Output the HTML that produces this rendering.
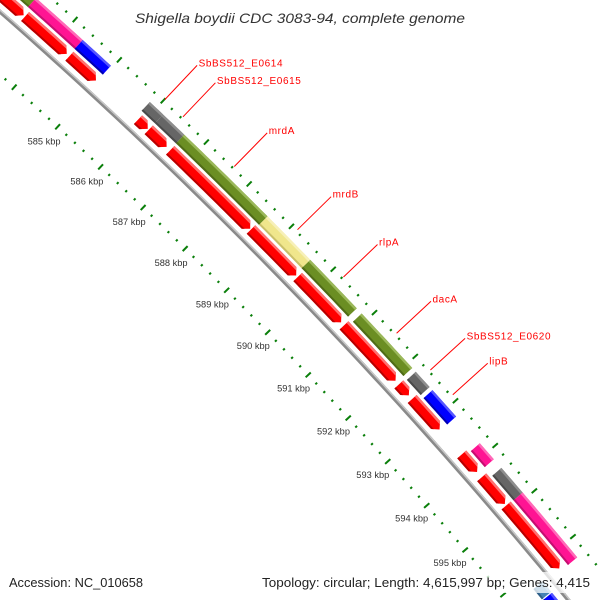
<!DOCTYPE html>
<html><head><meta charset="utf-8"><title>Shigella boydii genome map</title>
<style>
html,body{margin:0;padding:0;background:#fff;overflow:hidden;}
svg{display:block;}
text{font-family:"Liberation Sans","DejaVu Sans",sans-serif;}
</style></head>
<body>
<svg id="map" width="600" height="600" viewBox="0 0 600 600" xmlns="http://www.w3.org/2000/svg">
<rect x="0" y="0" width="600" height="600" fill="#fff"/>
<g id="ticks"></g>
<g id="backbone"></g>
<g id="features"></g>
<g id="labels"></g>
<rect x="130" y="4" width="340" height="20" fill="#fff" opacity="0.75"/>
<text x="300" y="23" text-anchor="middle" font-size="14" font-style="italic" fill="#333" textLength="330" lengthAdjust="spacingAndGlyphs">Shigella boydii CDC 3083-94, complete genome</text>
<rect x="4" y="572" width="144" height="21" fill="#fff" opacity="0.75"/>
<text x="9" y="587" font-size="13" fill="#222" textLength="134" lengthAdjust="spacingAndGlyphs">Accession: NC_010658</text>
<rect x="257" y="572" width="340" height="21" fill="#fff" opacity="0.75"/>
<text x="262" y="587" font-size="13" fill="#222" textLength="328" lengthAdjust="spacingAndGlyphs">Topology: circular; Length: 4,615,997 bp; Genes: 4,415</text>
</svg>
<script>
// ---- data (bp positions) ----
const outerStarts = [582000, 583272, 584323, 585853, 586160, 586648, 588601, 589620, 590864, 592195, 592610, 593801, 594349, 594894];
const outerEnds   = [583272, 584323, 584963, 586160, 586648, 588601, 589620, 590745, 592108, 592539, 593203, 594157, 594894, 596312];
const outerCats   = ['olive','pink','blue','gray','gray','olive','khaki','olive','olive','gray','blue','pink','gray','pink'];
const arrowStarts = [582000, 583340, 584341, 585912, 586160, 586658, 588560, 589680, 590806, 592160, 592492, 593742, 594252, 594880];
const arrowEnds   = [583308, 584281, 584946, 586137, 586575, 588542, 589644, 590735, 592077, 592409, 593180, 594133, 594846, 596265];
const innerStarts = [596254, 596500];
const innerEnds   = [596480, 597200];
const innerCats   = ['steel','blue'];
const kbpLabels   = [585, 586, 587, 588, 589, 590, 591, 592, 593, 594, 595, 596];
const geneNames   = ['SbBS512_E0614','SbBS512_E0615','mrdA','mrdB','rlpA','dacA','SbBS512_E0620','lipB'];
const geneBp      = [586007, 586426, 587618, 589111, 590213, 591505, 592338, 592895];

// ---- styles / geometry ----
const palette = {
  olive:{base:'#6b8e23', light:'#9bb85a', dark:'#4f6b17'},
  pink:{base:'#ff1493', light:'#ff6ab8', dark:'#c40f70'},
  blue:{base:'#0000ff', light:'#5555ff', dark:'#0000b0'},
  gray:{base:'#666666', light:'#8e8e8e', dark:'#4a4a4a'},
  khaki:{base:'#f0e68c', light:'#f7f0b8', dark:'#c9bf6a'},
  red:{base:'#ff0000', light:'#ff7070', dark:'#b80000'},
  steel:{base:'#4682b4', light:'#7aa6cc', dark:'#2f5f88'}
};
const CX = -3300, CY = 3768;
const NS = 'http://www.w3.org/2000/svg';
function ang(bp){ return (-46.64 + (bp - 586000) * 0.00068) * Math.PI / 180; }
function pt(bp, r){ const a = ang(bp); return [CX + r * Math.cos(a), CY + r * Math.sin(a)]; }
function mk(tag, attrs, parent){ const el = document.createElementNS(NS, tag); for (const k in attrs) el.setAttribute(k, attrs[k]); parent.appendChild(el); return el; }

function bandPoints(s, e, r1, r2, ra, rb, arrow){
  const rm = (r1 + r2) / 2, hw = (r2 - r1) / 2, head = 100;
  const endAt = r => arrow ? e - head * Math.abs(r - rm) / hw : e;
  const pts = [];
  const step = 100;
  const eb = endAt(rb);
  for (let b = s; b < eb; b += step) pts.push(pt(b, rb));
  pts.push(pt(eb, rb));
  const rs = [rb];
  if (arrow && rm < rb && rm > ra) rs.push(rm);
  rs.push(ra);
  for (let i = 1; i < rs.length; i++) pts.push(pt(endAt(rs[i]), rs[i]));
  const ea = endAt(ra);
  for (let b = ea - step; b > s; b -= step) pts.push(pt(b, ra));
  pts.push(pt(s, ra));
  return pts.map(p => p[0].toFixed(2) + ',' + p[1].toFixed(2)).join(' ');
}
function drawFeature(parent, s, e, r1, r2, col, arrow, name){
  const g = mk('g', {}, parent);
  
  
  mk('polygon', {points: bandPoints(s, e, r1, r2, r1, r2, arrow), fill: col.base}, g);
  mk('polygon', {points: bandPoints(s, e, r1, r2, r2 - 2.5, r2, arrow), fill: col.light}, g);
  mk('polygon', {points: bandPoints(s, e, r1, r2, r1, r1 + 2, arrow), fill: col.dark}, g);
}

// ---- ticks ----
const ticks = document.getElementById('ticks');
function tickRing(rc, ringName){
  for (let bp = 581000; bp <= 600000; bp += 200){
    const major = bp % 1000 === 0;
    const len = major ? 3.5 : 1.2;
    const a = pt(bp, rc - len), b = pt(bp, rc + len);
    const ln = mk('line', {x1:a[0], y1:a[1], x2:b[0], y2:b[1], stroke:'#0a7f0a', 'stroke-width': 2}, ticks);
    
    
  }
}
tickRing(5044, 'outer');
tickRing(4953, 'inner');
kbpLabels.forEach(k => {
  const p = pt(k * 1000, 4933);
  const t = mk('text', {x:p[0].toFixed(1), y:(p[1] + 3).toFixed(1), 'text-anchor':'middle', 'font-size':9, fill:'#333', textLength:33, lengthAdjust:'spacingAndGlyphs'}, ticks);
  t.textContent = k + ' kbp';
  
  
});

// ---- backbone ----
const bbg = document.getElementById('backbone');
function arcPath(r, s, e){ const pts = []; for (let b = s; b <= e; b += 200) pts.push(pt(b, r)); return 'M' + pts.map(p => p[0].toFixed(2) + ' ' + p[1].toFixed(2)).join(' L'); }
const bb = mk('path', {d: arcPath(5000, 581000, 600000), stroke:'#8a8a8a', 'stroke-width':4, fill:'none'}, bbg);


const bbh = mk('path', {d: arcPath(5001.2, 581000, 600000), stroke:'#c8c8c8', 'stroke-width':1.4, fill:'none'}, bbg);



// ---- features ----
const fg = document.getElementById('features');
outerStarts.forEach((s, i) => drawFeature(fg, s, outerEnds[i], 5022, 5034, palette[outerCats[i]], false, 'outer-feature-' + i));
arrowStarts.forEach((s, i) => drawFeature(fg, s, arrowEnds[i], 5007, 5019, palette.red, true, 'cds-arrow-' + i));
innerStarts.forEach((s, i) => drawFeature(fg, s, innerEnds[i], 4980, 4992, palette[innerCats[i]], false, 'inner-feature-' + i));

// ---- gene labels ----
const lg = document.getElementById('labels');
geneNames.forEach((nm, i) => {
  const a = pt(geneBp[i], 5046), b = pt(geneBp[i], 5093);
  const ln = mk('line', {x1:a[0].toFixed(1), y1:a[1].toFixed(1), x2:b[0].toFixed(1), y2:b[1].toFixed(1), stroke:'#ff0000', 'stroke-width':1}, lg);
  
  
  const t = mk('text', {x:(b[0] + 1.5).toFixed(1), y:(b[1] + 1).toFixed(1), 'font-size':10, fill:'#ff0000', 'letter-spacing':'0.6'}, lg);
  t.textContent = nm;
  
  
});
</script>
</body></html>
